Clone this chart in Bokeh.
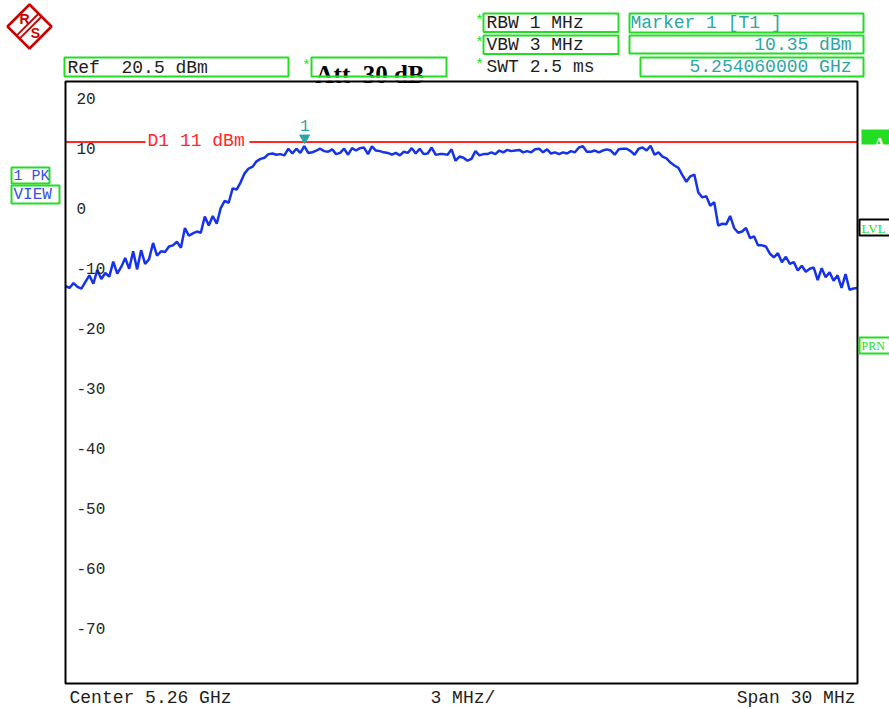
from bokeh.plotting import figure
from bokeh.models import Range1d
from bokeh.embed import file_html
from bokeh.resources import INLINE
from bokeh.core.properties import value

# ---------------- analyzer settings ----------------
center_mhz = 5260.0
span_mhz = 30.0
ref_level_dbm = 20.5
atten_db = 30
rbw_mhz = 1
vbw_mhz = 3
sweep_ms = 2.5
display_line_dbm = 11.0
marker_freq_mhz = 5254.06
marker_level_dbm = 10.35
level_ticks = [20, 10, 0, -10, -20, -30, -40, -50, -60, -70]

# trace 1 (max peak), 200 points evenly spread across the span
trace_dbm = [
    -13.0, -13.3, -12.5, -13.1, -13.4, -12.3, -11.2, -12.6, -10.3, -11.8,
    -10.8, -11.4, -8.9, -10.9, -9.8, -8.3, -10.1, -7.2, -10.2, -7.0,
    -9.3, -8.5, -5.8, -7.9, -7.2, -7.3, -6.4, -6.2, -5.6, -6.6,
    -3.3, -4.6, -4.2, -3.9, -4.1, -1.4, -2.9, -1.3, -2.6, 0.0,
    1.2, 0.9, 3.3, 3.1, 4.3, 5.8, 6.6, 6.9, 7.8, 8.2,
    8.4, 9.0, 9.1, 8.9, 9.0, 8.8, 9.9, 9.1, 9.9, 9.2,
    10.35, 9.2, 9.3, 9.6, 9.9, 9.5,
    9.4, 9.8, 9.0, 9.2, 9.9, 8.9, 10.0, 9.6, 10.0, 10.1,
    9.0, 10.3, 9.6, 9.5, 9.3, 9.2, 8.9, 9.2, 8.8, 9.4,
    9.2, 10.0, 9.1, 9.9, 9.0, 9.1, 10.1, 8.9, 9.0, 9.0,
    8.9, 9.8, 7.9, 8.6, 8.4, 7.9, 8.2, 9.5, 8.8, 9.0,
    9.0, 9.3, 9.0, 9.6, 9.3, 9.7, 9.5, 9.6, 9.7, 9.3,
    9.5, 9.3, 9.8, 9.9, 9.3, 9.8, 9.1, 9.3, 9.0, 9.3,
    9.1, 9.5, 9.3, 10.1, 10.3, 9.4, 9.4, 9.6, 9.3,
    9.6, 9.8, 9.6, 8.9, 9.8, 9.9, 9.9, 9.5, 8.9, 9.9,
    10.1, 9.6, 10.4, 8.9, 9.3, 8.6, 8.3, 7.6, 7.1, 6.7,
    5.5, 4.4, 5.3, 5.6, 2.6, 1.8, 2.0, 0.4, 1.0, -2.9,
    -2.6, -2.7, -1.3, -3.3, -4.1, -3.9, -3.3, -5.0, -4.7, -6.2,
    -6.2, -6.4, -7.6, -8.2, -7.5, -9.0, -8.1, -9.3, -9.0, -10.4,
    -9.6, -10.6, -10.1, -9.9, -12.0, -10.0, -11.5, -10.7, -12.1, -11.2,
    -13.3, -11.0, -13.6, -13.4, -13.3,
]

# ---------------- screen layout ----------------
W, H = 889, 709
BOX_L, BOX_T, BOX_R, BOX_B = 65, 81, 857, 683   # diagram frame in pixels
DB_TOP, DB_BOT = 21.1, -79.2                     # level at frame top / bottom

f_lo = center_mhz - span_mhz / 2
f_hi = center_mhz + span_mhz / 2
xpp = span_mhz / (BOX_R - BOX_L)
ypp = (DB_TOP - DB_BOT) / (BOX_B - BOX_T)
x_range = Range1d(f_lo - BOX_L * xpp, f_hi + (W - BOX_R) * xpp)
y_range = Range1d(DB_BOT - (H - BOX_B) * ypp, DB_TOP + BOX_T * ypp)


def X(px):
    return x_range.start + px * xpp


def Y(py):
    return y_range.end - py * ypp


GREEN = "#22dd22"
TEAL = "#2ca5a5"
BLUE = "#1533e8"
TEXT_BLUE = "#3550e6"
RED = "#ff2828"
LOGO_RED = "#c80000"
INK = "#1e1e1e"
NB = "\u00a0"  # keeps double spaces in the SVG text
MONO = value("Liberation Mono")
SERIF = value("Liberation Serif")
SANS = value("Liberation Sans")

p = figure(width=W, height=H, x_range=x_range, y_range=y_range,
           output_backend="svg", toolbar_location=None, min_border=0,
           x_axis_location=None, y_axis_location=None,
           outline_line_color=None, background_fill_color="white",
           border_fill_color="white")
for g in p.grid:
    g.visible = False


def txt(px, py, s, color=INK, size="18px", align="left", font=MONO,
        style="normal", baseline="middle"):
    p.text(x=[X(px)], y=[Y(py)], text=[s], text_color=color,
           text_font=font, text_font_size=size, text_align=align,
           text_baseline=baseline, text_font_style=style)


def box(l, t, r, b, line=GREEN, fill=None, width=2):
    p.quad(left=[X(l)], right=[X(r)], top=[Y(t)], bottom=[Y(b)],
           fill_color=fill, line_color=line, line_width=width)


# ---------------- logo ----------------
p.patch([X(29), X(51), X(29), X(7)], [Y(4), Y(26), Y(48), Y(26)],
        fill_color=None, line_color=LOGO_RED, line_width=2.5)
p.multi_line([[X(41.2), X(19.8)], [X(38.2), X(16.8)]],
             [[Y(16.0), Y(37.3)], [Y(13.0), Y(34.3)]],
             line_color=LOGO_RED, line_width=1.8)
txt(24, 18, "R", color=LOGO_RED, size="14px", align="center", font=SANS,
    style="bold")
txt(35, 32.5, "S", color=LOGO_RED, size="14px", align="center", font=SANS,
    style="bold")

# ---------------- header ----------------
box(64, 57, 288, 76)
txt(67, 67, f"Ref{NB}{NB}{ref_level_dbm} dBm")
txt(306, 66, "*", color=GREEN, size="15px", align="center")

txt(315, 74, f"Att{NB}{NB}{atten_db} dB", color="#000000", size="25px",
    font=SERIF, style="bold")
p.quad(left=[X(312)], right=[X(446)], top=[Y(77)], bottom=[Y(80.2)],
       fill_color="white", line_color=None)
box(311, 57, 446, 76)

for row_y, s, framed in [(22, f"RBW {rbw_mhz} MHz", True),
                         (44, f"VBW {vbw_mhz} MHz", True),
                         (66, f"SWT {sweep_ms} ms", False)]:
    txt(479, row_y - 1, "*", color=GREEN, size="15px", align="center")
    if framed:
        box(483, row_y - 9, 618, row_y + 9.5)
    txt(486, row_y, s)

box(629, 13, 863, 32)
txt(630, 22, "Marker 1 [T1 ]", color=TEAL)
box(629, 35, 863, 53)
txt(851, 44, f"{marker_level_dbm:.2f} dBm", color=TEAL, align="right")
box(640, 57, 863, 76)
txt(851, 66, f"{marker_freq_mhz / 1000:.9f} GHz", color=TEAL, align="right")

# ---------------- trace ----------------
n = len(trace_dbm)
freqs = [f_lo + i * span_mhz / (n - 1) for i in range(n)]
p.line(freqs, trace_dbm, line_color=BLUE, line_width=2.5)

# display line D1
p.segment(x0=[f_lo], x1=[f_hi], y0=[display_line_dbm], y1=[display_line_dbm],
          line_color=RED, line_width=2)
p.quad(left=[X(145)], right=[X(249)], top=[Y(134)], bottom=[Y(148)],
       fill_color="white", line_color=None)
txt(147, 140.5, f"D1 {display_line_dbm:g} dBm", color=RED)

# marker 1
p.scatter([marker_freq_mhz], [marker_level_dbm + 1.35], marker="inverted_triangle",
          size=10, fill_color=TEAL, line_color=TEAL)
p.text(x=[marker_freq_mhz], y=[marker_level_dbm + 3.45], text=["1"],
       text_color=TEAL, text_font=MONO, text_font_size="16px",
       text_align="center", text_baseline="middle")

# level scale
tick_pos = [min(v, DB_TOP - 2.85) for v in level_ticks]
p.text(x=[X(76)] * len(level_ticks), y=tick_pos,
       text=[str(v) for v in level_ticks], text_color="#262626",
       text_font=MONO, text_font_size="16px", text_align="left",
       text_baseline="middle")

# diagram frame
p.quad(left=[f_lo], right=[f_hi], top=[DB_TOP], bottom=[DB_BOT],
       fill_color=None, line_color="#000000", line_width=2)

# ---------------- side annotations ----------------
box(11, 167, 49, 183)
txt(13, 175.5, "1 PK", color=TEXT_BLUE, size="15px")
box(11, 185, 59, 203)
txt(13, 194.5, "VIEW", color=TEXT_BLUE, size="16px")

p.quad(left=[X(861)], right=[X(895)], top=[Y(129)], bottom=[Y(144)],
       fill_color=GREEN, line_color=None)
txt(879, 134, "A", color="white", size="16px", align="center",
    font=SERIF, style="bold", baseline="top")
box(859, 219, 895, 235, line="#000000", fill="white")
txt(861, 227.5, "LVL", color=GREEN, size="13px", font=SERIF)
box(859, 337, 895, 353)
txt(861, 345.5, "PRN", color=GREEN, size="12px", font=SERIF)

# ---------------- footer ----------------
txt(69, 697, f"Center {center_mhz / 1000:.2f} GHz")
txt(430, 697, f"{span_mhz / 10:g} MHz/")
txt(855, 697, f"Span {span_mhz:g} MHz", align="right")

open("out.html", "w").write(file_html(p, INLINE))
